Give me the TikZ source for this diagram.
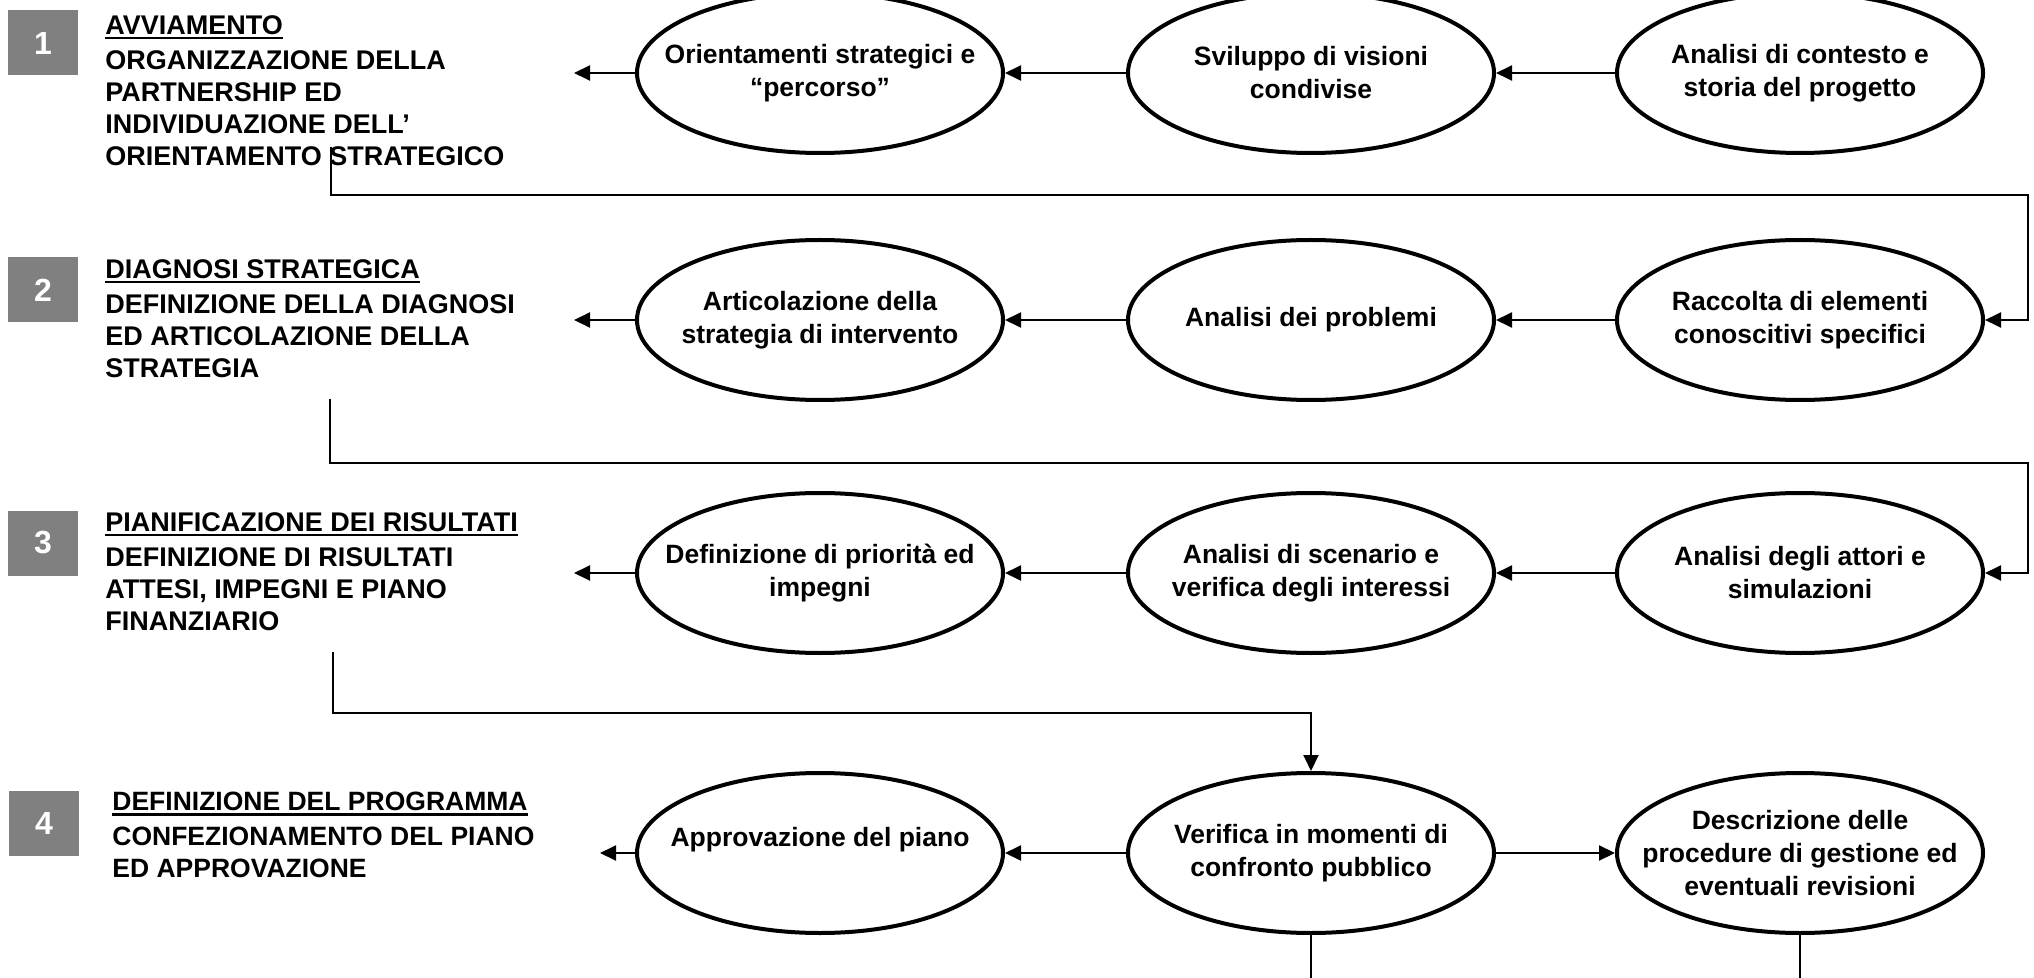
\documentclass[tikz,border=0pt]{standalone}
\usepackage{fontspec}
\setmainfont{Liberation Sans}
\usepackage{tikz}
\usetikzlibrary{shapes,arrows.meta,positioning,calc}
\definecolor{boxgray}{RGB}{128,128,128}
\newcommand{\ultitle}[1]{\setbox0\hbox{#1}\rlap{\rule[-2.4pt]{\wd0}{1.2pt}}\box0}

\begin{document}
\begin{tikzpicture}[
    x=0.5pt, y=-0.5pt,
    phase/.style={ellipse, draw=black, line width=2pt, minimum width=183pt, minimum height=80pt,
                  inner sep=-20pt, align=center, font=\fontsize{13.25}{16.5}\selectfont\bfseries},
    num/.style={rectangle, fill=boxgray, text=white, minimum width=35pt, minimum height=32.5pt,
                inner sep=0pt, font=\fontsize{16}{18}\selectfont\bfseries},
    desc/.style={anchor=north west, inner sep=0pt, align=left,
                 font=\fontsize{13.5}{16}\selectfont\bfseries},
    arrow/.style={-{Triangle[length=8pt,width=7.5pt]}, line width=1pt},
    link/.style={line width=1pt}
]
\useasboundingbox (0,0) rectangle (2034,978);

% phase labels on the left
\node[num] (n1) at (43,43) {1};
\node[num] (n2) at (43,290) {2};
\node[num] (n3) at (43,543) {3};
\node[num] (n4) at (44,823) {4};

\node[desc] (avv) at (105,15) {\ultitle{AVVIAMENTO}\\[1.5pt]ORGANIZZAZIONE DELLA\\PARTNERSHIP ED\\INDIVIDUAZIONE DELL’\\ORIENTAMENTO STRATEGICO};
\node[desc] (diag) at (105,259) {\ultitle{DIAGNOSI STRATEGICA}\\[1.5pt]DEFINIZIONE DELLA DIAGNOSI\\ED ARTICOLAZIONE DELLA\\STRATEGIA};
\node[desc] (pian) at (105,512) {\ultitle{PIANIFICAZIONE DEI RISULTATI}\\[1.5pt]DEFINIZIONE DI RISULTATI\\ATTESI, IMPEGNI E PIANO\\FINANZIARIO};
\node[desc, font=\fontsize{13.25}{16}\selectfont\bfseries] (prog) at (112,792) {\ultitle{DEFINIZIONE DEL PROGRAMMA}\\[1.5pt]CONFEZIONAMENTO DEL PIANO\\ED APPROVAZIONE};

% row 1
\node[phase] (orient) at (820,73) {Orientamenti strategici e\\“percorso”};
\node[phase] (vision) at (1311,73) {Sviluppo di visioni\\condivise};
\node[phase] (context) at (1800,73) {Analisi di contesto e\\storia del progetto};

% row 2
\node[phase] (strategy) at (820,320) {Articolazione della\\strategia di intervento};
\node[phase] (problems) at (1311,320) {Analisi dei problemi};
\node[phase] (survey) at (1800,320) {Raccolta di elementi\\conoscitivi specifici};

% row 3
\node[phase] (priority) at (820,573) {Definizione di priorità ed\\impegni};
\node[phase] (scenario) at (1311,573) {Analisi di scenario e\\verifica degli interessi};
\node[phase] (actors) at (1800,573) {Analisi degli attori e\\simulazioni};

% row 4
\node[phase] (approval) at (820,853) {Approvazione del piano\\\mbox{}};
\node[phase] (publicv) at (1311,853) {Verifica in momenti di\\confronto pubblico};
\node[phase] (procedures) at (1800,853) {Descrizione delle\\procedure di gestione ed\\eventuali revisioni};

% free ends
\coordinate (out1) at (574,73);
\coordinate (out2) at (574,320);
\coordinate (out3) at (574,573);
\coordinate (out4) at (600,853);
\coordinate (drop1) at (331,147);
\coordinate (turn1) at (2028,195);
\coordinate (drop2) at (330,399);
\coordinate (turn2) at (2028,463);
\coordinate (drop3) at (333,652);
\coordinate (turn3) at (1311,713);
\coordinate (foot2) at (1311,990);
\coordinate (foot3) at (1800,990);

% arrows inside the rows
\draw[arrow] (context) -- (vision);
\draw[arrow] (vision) -- (orient);
\draw[arrow] (orient) -- (out1);
\draw[arrow] (survey) -- (problems);
\draw[arrow] (problems) -- (strategy);
\draw[arrow] (strategy) -- (out2);
\draw[arrow] (actors) -- (scenario);
\draw[arrow] (scenario) -- (priority);
\draw[arrow] (priority) -- (out3);
\draw[arrow] (publicv) -- (approval);
\draw[arrow] (publicv) -- (procedures);
\draw[arrow] (approval) -- (out4);

% links between the rows
\draw[arrow] (drop1) |- (turn1) |- (survey.east);
\draw[arrow] (drop2) |- (turn2) |- (actors.east);
\draw[arrow] (drop3) |- (turn3) -- (publicv.north);
\draw[link] (publicv.south) -- (foot2);
\draw[link] (procedures.south) -- (foot3);

\end{tikzpicture}
\end{document}
